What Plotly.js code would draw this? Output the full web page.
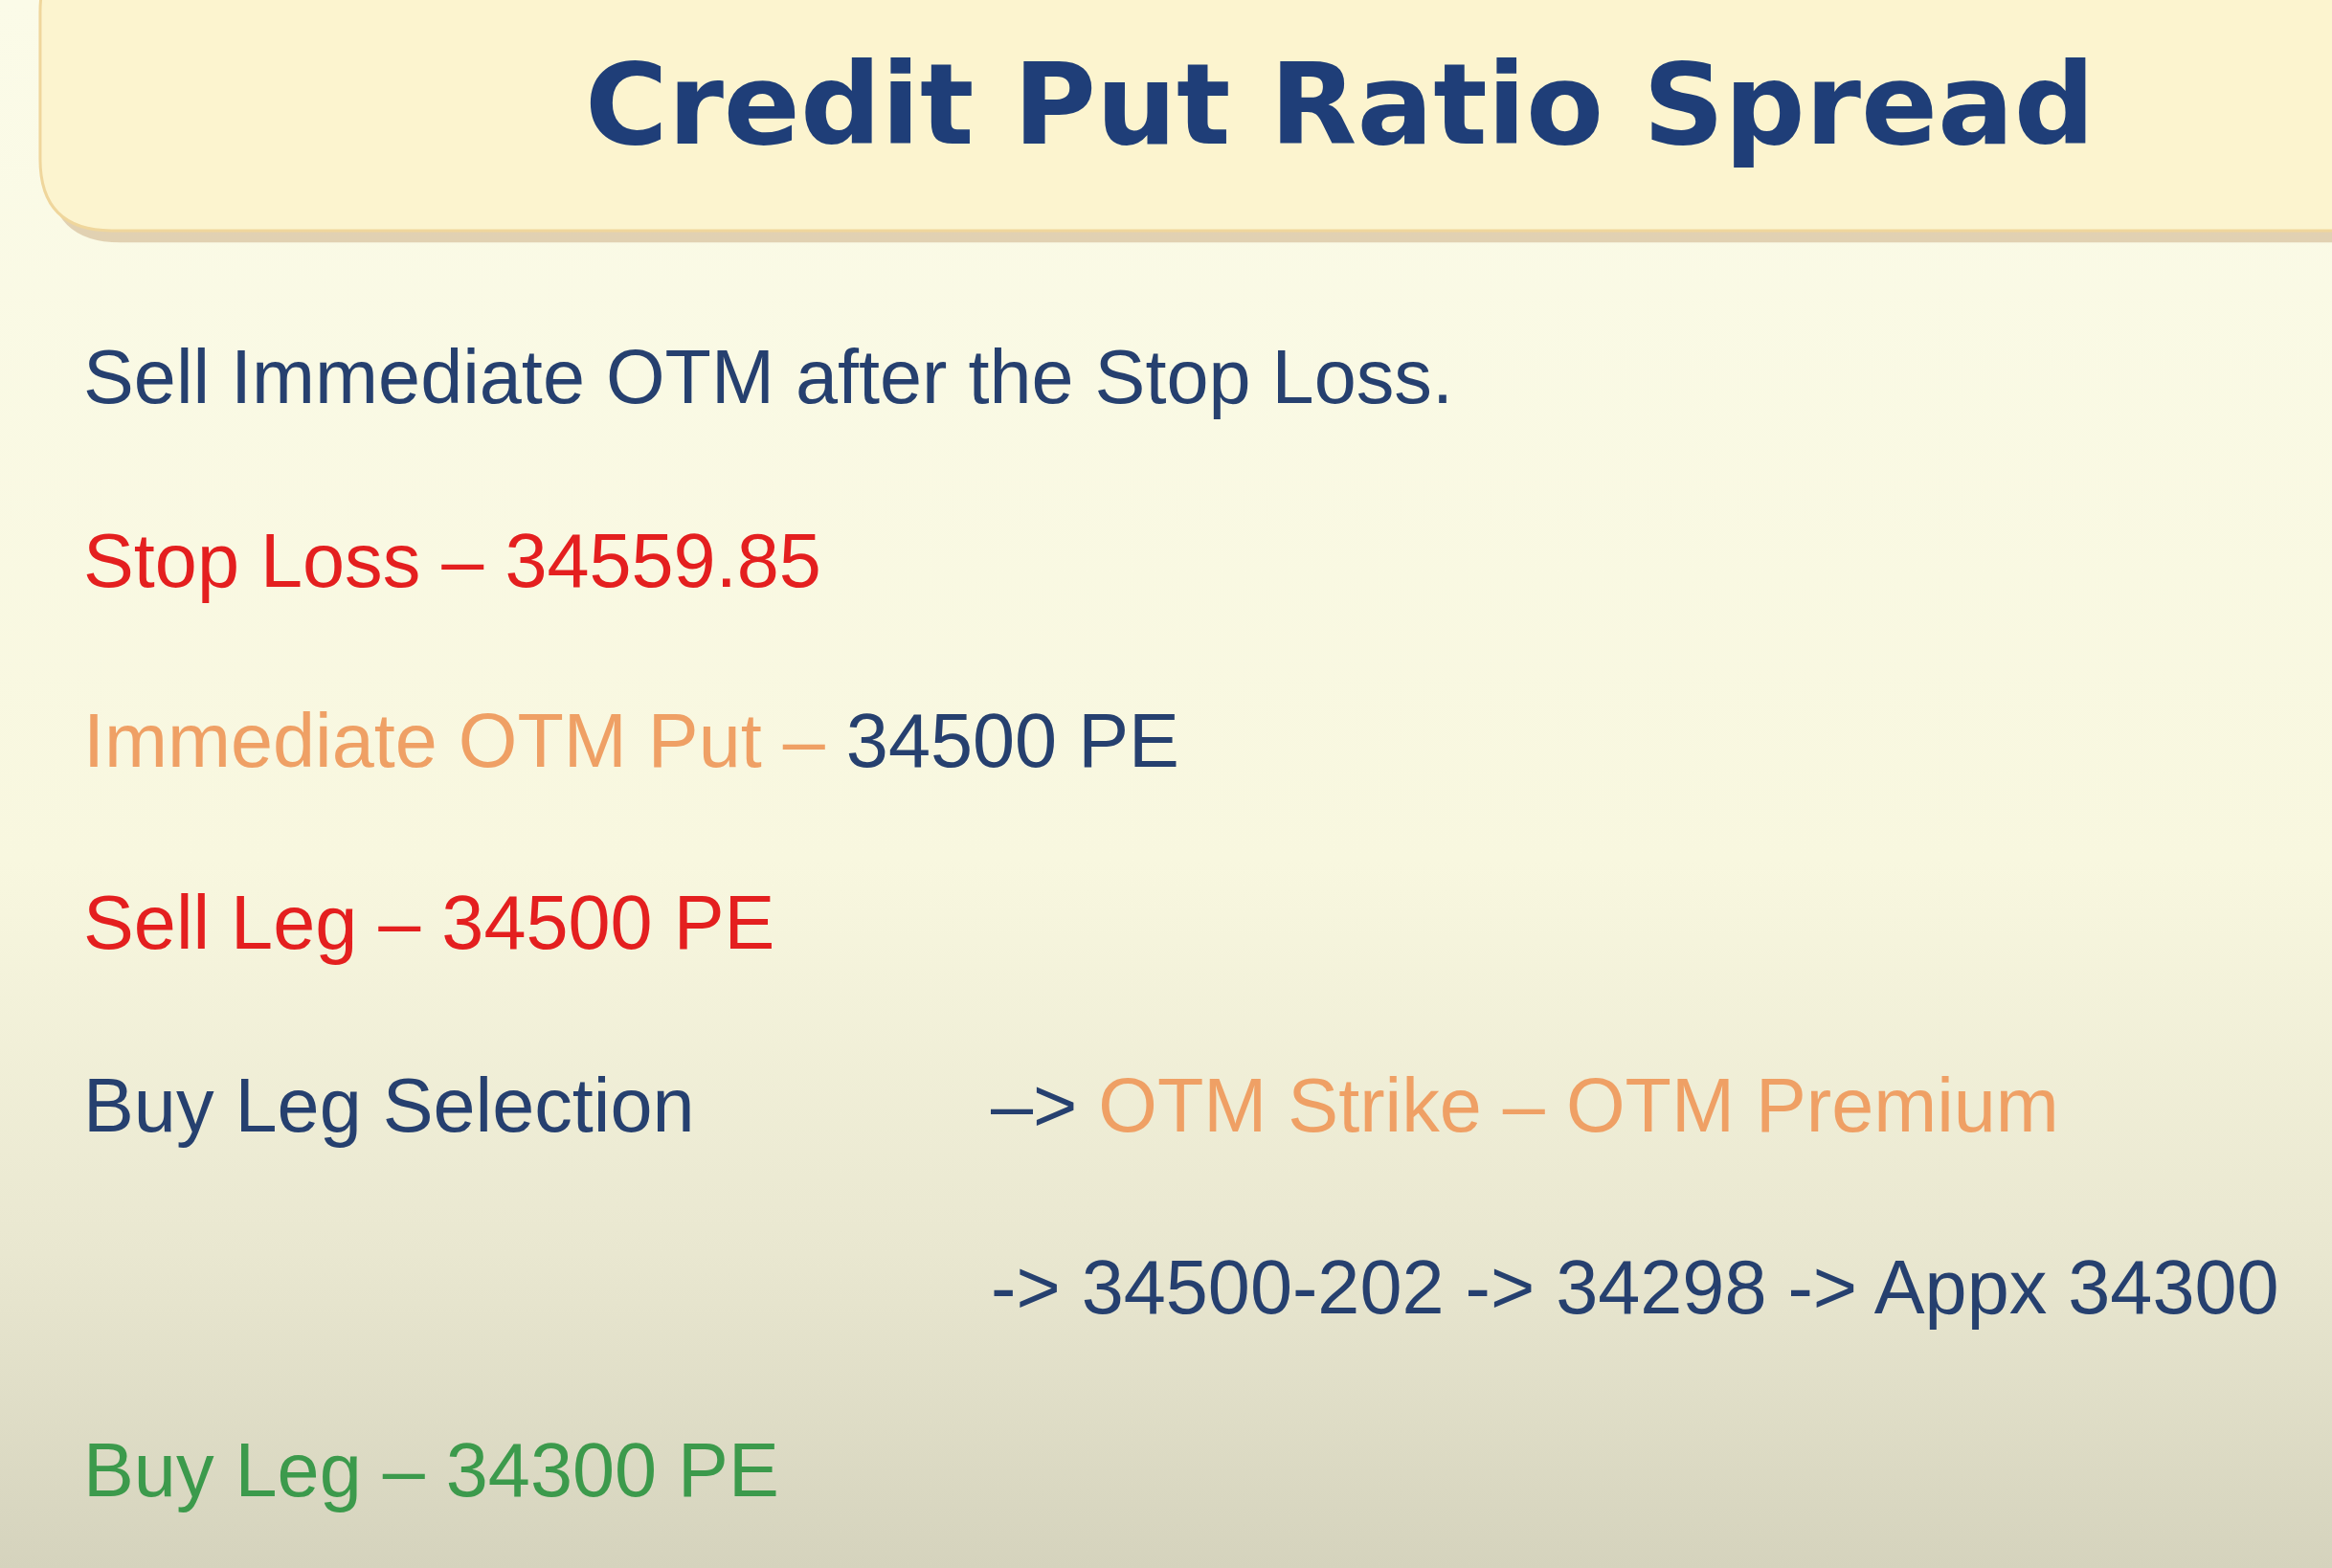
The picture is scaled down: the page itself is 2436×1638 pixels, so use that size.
<!DOCTYPE html>
<html>
<head>
<meta charset="utf-8">
<script src="https://cdn.plot.ly/plotly-3.0.1.min.js"></script>
<style>
  html, body { margin: 0; padding: 0; }
  #slide {
    width: 2436px; height: 1638px;
    background: linear-gradient(to bottom, #fbfbe8 0%, #f8f7df 55%, #e9e7d0 80%, #d5d3bd 100%);
  }
</style>
</head>
<body>
<div id="slide"></div>
<script>
// slide is laid out in the units of the source picture (1568 x 1054)
var W = 1568, H = 1054, S = 2436 / W;

var blue = '#26406f', red = '#e41f1f', orange = '#efa065', green = '#3c9a4c';

var titleText = 'Credit Put Ratio Spread';
var lineX = [55, 55, 55, 55, 55, 665, 665, 55];
var lineY = [253, 377, 498, 620, 743, 743, 865, 988];
var lineText = [
    '<span style="color:' + blue + '">Sell Immediate OTM after the Stop Loss.</span>',
    '<span style="color:' + red + '">Stop Loss – 34559.85</span>',
    '<span style="color:' + orange + '">Immediate OTM Put – </span><span style="color:' + blue + '">34500 PE</span>',
    '<span style="color:' + red + '">Sell Leg – 34500 PE</span>',
    '<span style="color:' + blue + '">Buy Leg Selection</span>',
    '<span style="color:' + blue + '">–> </span><span style="color:' + orange + '">OTM Strike – OTM Premium</span>',
    '<span style="color:' + blue + '">-> 34500-202 -> 34298 -> Appx 34300</span>',
    '<span style="color:' + green + '">Buy Leg – 34300 PE</span>'
];

function roundBox(x0, y0, x1, y1, r)
{
    return 'M' + (x0 + r) + ',' + y0 + ' L' + x1 + ',' + y0 + ' L' + x1 + ',' + y1 +
        ' L' + (x0 + r) + ',' + y1 + ' Q' + x0 + ',' + y1 + ' ' + x0 + ',' + (y1 - r) +
        ' L' + x0 + ',' + (y0 + r) + ' Q' + x0 + ',' + y0 + ' ' + (x0 + r) + ',' + y0 + ' Z';
}

var annotations = [];
for (var iii = 0; iii < lineText.length; iii++)
{
    annotations.push({
        x: lineX[iii], y: lineY[iii], xref: 'x', yref: 'y',
        xanchor: 'left', yanchor: 'middle', showarrow: false,
        text: lineText[iii],
        font: {family: 'Liberation Sans, Arial, sans-serif', size: 51 * S}
    });
}
annotations.push({
    x: 901, y: 70, xref: 'x', yref: 'y', xanchor: 'center', yanchor: 'middle', showarrow: false,
    text: '<b>' + titleText + '</b>',
    font: {family: 'DejaVu Sans, sans-serif', size: 76 * S, color: '#1f3e78'}
});

var layout = {
    width: 2436, height: 1638,
    margin: {l: 0, r: 0, t: 0, b: 0},
    paper_bgcolor: 'rgba(0,0,0,0)', plot_bgcolor: 'rgba(0,0,0,0)',
    xaxis: {range: [0, W], visible: false, fixedrange: true},
    yaxis: {range: [H, 0], visible: false, fixedrange: true},
    showlegend: false,
    shapes: [
        {type: 'path', path: roundBox(33, -40, 1640, 163, 48), xref: 'x', yref: 'y',
         fillcolor: 'rgba(195,160,115,0.45)', line: {width: 0}},
        {type: 'path', path: roundBox(27, -40, 1640, 155, 48), xref: 'x', yref: 'y',
         fillcolor: '#fcf4cf', line: {color: '#efd69c', width: 3}}
    ],
    annotations: annotations
};

Plotly.newPlot('slide', [], layout, {displayModeBar: false, staticPlot: true});
</script>
</body>
</html>
